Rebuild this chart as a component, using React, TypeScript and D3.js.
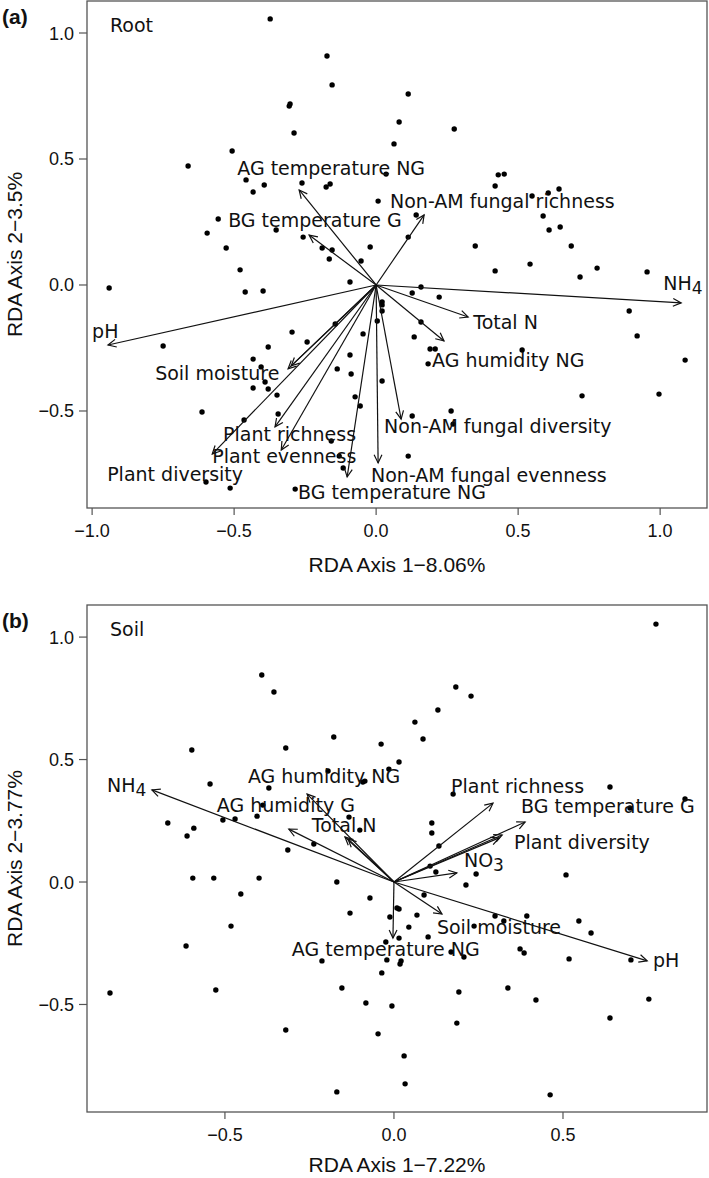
import React from "react";
import * as d3 from "d3";

// ---------- Panel (a) Root ----------
const rootPoints: [number, number][] = [
  [-0.373, 1.056], [-0.173, 0.909], [-0.155, 0.794], [-0.306, 0.71], [-0.303, 0.718],
  [-0.289, 0.603], [-0.507, 0.532], [-0.662, 0.472], [-0.458, 0.417], [-0.433, 0.369],
  [-0.394, 0.397], [-0.261, 0.405], [-0.176, 0.389], [-0.162, 0.401], [-0.556, 0.262],
  [-0.352, 0.218], [-0.595, 0.206], [-0.257, 0.19], [-0.528, 0.147], [-0.19, 0.147],
  [-0.155, 0.139], [-0.165, 0.103], [-0.479, 0.06], [-0.092, 0.012], [-0.94, -0.012],
  [-0.461, -0.028], [-0.398, -0.024], [0.113, 0.758], [0.081, 0.647], [0.275, 0.619],
  [0.063, 0.56], [0.035, 0.44], [0.43, 0.437], [0.451, 0.44], [0.419, 0.393],
  [0.007, 0.333], [0.549, 0.353], [0.606, 0.365], [0.644, 0.381], [0.141, 0.278],
  [0.588, 0.274], [0.113, 0.19], [0.609, 0.218], [0.648, 0.23], [-0.021, 0.151],
  [0.349, 0.155], [0.687, 0.155], [-0.053, 0.095], [0.419, 0.056], [0.542, 0.083],
  [0.718, 0.032], [0.778, 0.067], [0.954, 0.052], [0.158, -0.008], [0.127, -0.032],
  [0.222, -0.048], [-0.144, -0.155], [-0.296, -0.187], [-0.75, -0.242], [-0.243, -0.226],
  [-0.38, -0.246], [-0.433, -0.294], [-0.092, -0.278], [-0.405, -0.325], [-0.137, -0.333],
  [-0.088, -0.353], [-0.391, -0.385], [-0.433, -0.409], [-0.38, -0.413], [-0.349, -0.437],
  [-0.074, -0.444], [-0.613, -0.504], [-0.345, -0.512], [-0.465, -0.536], [-0.158, -0.619],
  [-0.13, -0.679], [-0.116, -0.726], [-0.599, -0.782], [-0.514, -0.806], [-0.285, -0.81],
  [0.021, -0.067], [0.021, -0.079], [0.021, -0.103], [0.004, -0.143], [0.158, -0.147],
  [0.891, -0.103], [0.919, -0.202], [0.134, -0.206], [-0.046, -0.194], [0.19, -0.254],
  [0.208, -0.254], [0.514, -0.258], [0.183, -0.313], [1.088, -0.298], [0.021, -0.381],
  [-0.056, -0.48], [0.725, -0.44], [0.996, -0.433], [0.264, -0.5], [0.127, -0.52],
  [0.271, -0.552], [0.113, -0.679],
];

const rootVectors: [number, number][] = [
  [-0.944, -0.238], [1.074, -0.071], [0.324, -0.127], [0.239, -0.222], [0.088, -0.532],
  [0.007, -0.706], [-0.102, -0.762], [-0.334, -0.655], [-0.356, -0.563], [-0.577, -0.671],
  [-0.31, -0.333], [-0.299, -0.321], [-0.271, 0.377], [-0.236, 0.198], [0.169, 0.278],
];

const rootLabels = [
  "AG temperature NG", "BG temperature G", "Non-AM fungal richness", "NH|4", "pH",
  "Total N", "AG humidity NG", "Soil moisture", "Non-AM fungal diversity", "Plant richness",
  "Plant evenness", "Plant diversity", "Non-AM fungal evenness", "BG temperature NG",
];
const rootLabelAt: [number, number][] = [
  [-0.489, 0.437], [-0.521, 0.23], [0.049, 0.306], [1.011, -0.02], [-1.0, -0.21],
  [0.342, -0.175], [0.197, -0.325], [-0.778, -0.377], [0.028, -0.587], [-0.539, -0.619],
  [-0.577, -0.706], [-0.947, -0.778], [-0.018, -0.782], [-0.275, -0.849],
];

const rootXTicks = [-1.0, -0.5, 0.0, 0.5, 1.0];
const rootYTicks = [-0.5, 0.0, 0.5, 1.0];

// ---------- Panel (b) Soil ----------
const soilPoints: [number, number][] = [
  [0.775, 1.053], [-0.391, 0.845], [-0.355, 0.776], [-0.178, 0.592], [-0.598, 0.539],
  [-0.32, 0.547], [-0.544, 0.4], [-0.195, 0.453], [-0.37, 0.384], [-0.388, 0.314],
  [-0.133, 0.265], [-0.669, 0.241], [-0.506, 0.253], [-0.47, 0.257], [-0.405, 0.269],
  [-0.612, 0.188], [-0.592, 0.22], [-0.101, 0.212], [-0.237, 0.155], [-0.314, 0.131],
  [-0.595, 0.016], [-0.533, 0.016], [-0.399, 0.016], [0.183, 0.796], [0.228, 0.759],
  [0.13, 0.702], [0.062, 0.653], [0.086, 0.584], [-0.038, 0.563], [0.015, 0.49],
  [-0.015, 0.461], [-0.092, 0.408], [-0.086, 0.412], [0.175, 0.359], [0.639, 0.388],
  [0.861, 0.339], [0.698, 0.302], [0.112, 0.241], [0.112, 0.2], [0.133, 0.147],
  [0.107, 0.065], [0.124, 0.041], [0.243, 0.033], [0.509, 0.029], [-0.169, 0.0],
  [-0.453, -0.049], [-0.13, -0.127], [-0.482, -0.18], [-0.615, -0.261], [-0.213, -0.322],
  [-0.154, -0.433], [-0.527, -0.441], [-0.84, -0.453], [-0.32, -0.604], [-0.169, -0.857],
  [0.213, -0.012], [0.089, -0.053], [-0.071, -0.065], [0.009, -0.106], [0.015, -0.11],
  [-0.012, -0.143], [0.068, -0.135], [0.044, -0.184], [0.299, -0.139], [0.325, -0.159],
  [0.393, -0.139], [0.237, -0.18], [0.547, -0.159], [0.583, -0.208], [0.015, -0.229],
  [0.101, -0.224], [-0.024, -0.245], [-0.021, -0.318], [0.021, -0.322], [0.018, -0.335],
  [0.169, -0.286], [0.207, -0.306], [0.373, -0.273], [0.385, -0.29], [0.518, -0.314],
  [0.701, -0.318], [-0.036, -0.371], [0.192, -0.449], [0.337, -0.433], [0.42, -0.482],
  [0.754, -0.478], [-0.083, -0.494], [-0.006, -0.506], [0.186, -0.576], [0.639, -0.555],
  [-0.047, -0.62], [0.03, -0.71], [0.033, -0.824], [0.462, -0.869],
];

const soilVectors: [number, number][] = [
  [-0.716, 0.376], [-0.257, 0.359], [-0.311, 0.216], [-0.145, 0.184], [-0.136, 0.176],
  [0.293, 0.322], [0.388, 0.245], [0.32, 0.192], [0.311, 0.18], [0.186, 0.037],
  [0.142, -0.131], [0.749, -0.322], [-0.003, -0.229],
];

const soilLabels = [
  "NH|4", "AG humidity NG", "AG humidity G", "Total N", "Plant richness",
  "BG temperature G", "Plant diversity", "NO|3", "Soil moisture", "AG temperature NG", "pH",
];
const soilLabelAt: [number, number][] = [
  [-0.849, 0.367], [-0.432, 0.404], [-0.524, 0.286], [-0.243, 0.204], [0.169, 0.363],
  [0.376, 0.282], [0.355, 0.135], [0.207, 0.061], [0.127, -0.212], [-0.302, -0.302],
  [0.766, -0.347],
];

const soilXTicks = [-0.5, 0.0, 0.5];
const soilYTicks = [-0.5, 0.0, 0.5, 1.0];

const LABEL_FONT = "'DejaVu Sans', Verdana, sans-serif";
const AXIS_FONT = "'Liberation Sans', Arial, Helvetica, sans-serif";
const fmt = (v: number) => d3.format(".1f")(v).replace("-", "\u2212");

type PanelProps = {
  tag: string;
  title: string;
  xTitle: string;
  yTitle: string;
  points: [number, number][];
  vectors: [number, number][];
  labels: string[];
  labelAt: [number, number][];
  xTicks: number[];
  yTicks: number[];
  xDomain: [number, number];
  yDomain: [number, number];
  top: number;
  bottom: number;
  xTitleGap: number;
};

function Arrow({ x1, y1, x2, y2 }: { x1: number; y1: number; x2: number; y2: number }) {
  const ang = Math.atan2(y2 - y1, x2 - x1);
  const L = 9;
  const a = Math.PI / 7;
  const p1 = [x2 - L * Math.cos(ang - a), y2 - L * Math.sin(ang - a)];
  const p2 = [x2 - L * Math.cos(ang + a), y2 - L * Math.sin(ang + a)];
  return (
    <g stroke="#111" strokeWidth={1.2} fill="none">
      <line x1={x1} y1={y1} x2={x2} y2={y2} />
      <polyline points={`${p1[0]},${p1[1]} ${x2},${y2} ${p2[0]},${p2[1]}`} />
    </g>
  );
}

function Label({ text, x, y }: { text: string; x: number; y: number }) {
  const parts = text.split("|");
  return (
    <text x={x} y={y} fontFamily={LABEL_FONT} fontSize={19} fill="#111">
      {parts[0]}
      {parts.length > 1 && (
        <tspan dy={4} fontSize={17}>
          {parts[1]}
        </tspan>
      )}
    </text>
  );
}

function Panel(p: PanelProps) {
  const left = 87;
  const right = 707;
  const x = d3.scaleLinear().domain(p.xDomain).range([left, right]);
  const y = d3.scaleLinear().domain(p.yDomain).range([p.bottom, p.top]);
  const x0 = x(0);
  const y0 = y(0);
  return (
    <g>
      <text x={2} y={p.top + 23} fontFamily={AXIS_FONT} fontWeight="bold" fontSize={21} fill="#111">
        {p.tag}
      </text>
      <rect x={left} y={p.top} width={right - left} height={p.bottom - p.top} fill="none" stroke="#555" strokeWidth={1.3} />
      {p.xTicks.map((t) => (
        <g key={"x" + t}>
          <line x1={x(t)} x2={x(t)} y1={p.bottom} y2={p.bottom + 7} stroke="#555" strokeWidth={1.2} />
          <text x={x(t)} y={p.bottom + 29} textAnchor="middle" fontFamily={AXIS_FONT} fontSize={18} fill="#111">
            {fmt(t)}
          </text>
        </g>
      ))}
      {p.yTicks.map((t) => (
        <g key={"y" + t}>
          <line x1={left - 8} x2={left} y1={y(t)} y2={y(t)} stroke="#555" strokeWidth={1.2} />
          <text x={left - 13} y={y(t) + 6.5} textAnchor="end" fontFamily={AXIS_FONT} fontSize={18} fill="#111">
            {fmt(t)}
          </text>
        </g>
      ))}
      <text x={(left + right) / 2} y={p.bottom + p.xTitleGap} textAnchor="middle" fontFamily={AXIS_FONT} fontSize={21} fill="#111">
        {p.xTitle}
      </text>
      <text
        transform={`translate(22,${(p.top + p.bottom) / 2}) rotate(-90)`}
        textAnchor="middle"
        fontFamily={AXIS_FONT}
        fontSize={21}
        fill="#111"
      >
        {p.yTitle}
      </text>
      <text x={x(p.xDomain[0]) + 23} y={p.top + 31} fontFamily={LABEL_FONT} fontSize={19} fill="#111">
        {p.title}
      </text>
      {p.points.map((d, i) => (
        <circle key={"p" + i} cx={x(d[0])} cy={y(d[1])} r={2.7} fill="#000" />
      ))}
      {p.vectors.map((d, i) => (
        <Arrow key={"v" + i} x1={x0} y1={y0} x2={x(d[0])} y2={y(d[1])} />
      ))}
      {p.labels.map((t, i) => (
        <Label key={"l" + i} text={t} x={x(p.labelAt[i][0])} y={y(p.labelAt[i][1])} />
      ))}
    </g>
  );
}

export default function App() {
  return (
    <svg
      width={709}
      height={1178}
      style={{ position: "absolute", left: 0, top: 0, display: "block", background: "#fff" }}
    >
      <rect x={0} y={0} width={709} height={1178} fill="#fff" />
      <Panel
        tag="(a)"
        title="Root"
        xTitle={"RDA Axis 1\u22128.06%"}
        yTitle={"RDA Axis 2\u22123.5%"}
        points={rootPoints}
        vectors={rootVectors}
        labels={rootLabels}
        labelAt={rootLabelAt}
        xTicks={rootXTicks}
        yTicks={rootYTicks}
        xDomain={[-1.018, 1.165]}
        yDomain={[-0.885, 1.127]}
        top={1}
        bottom={508}
        xTitleGap={64}
      />
      <Panel
        tag="(b)"
        title="Soil"
        xTitle={"RDA Axis 1\u22127.22%"}
        yTitle={"RDA Axis 2\u22123.77%"}
        points={soilPoints}
        vectors={soilVectors}
        labels={soilLabels}
        labelAt={soilLabelAt}
        xTicks={soilXTicks}
        yTicks={soilYTicks}
        xDomain={[-0.908, 0.926]}
        yDomain={[-0.939, 1.131]}
        top={605}
        bottom={1112}
        xTitleGap={60}
      />
    </svg>
  );
}
